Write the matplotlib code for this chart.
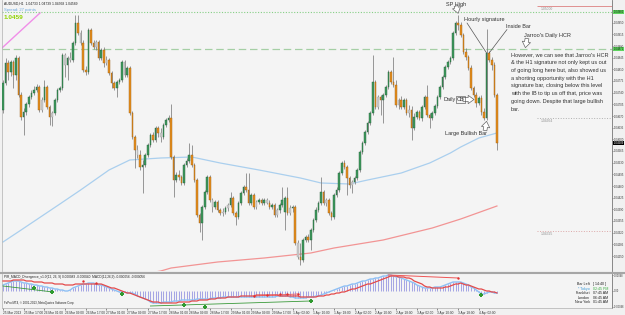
import numpy as np
import matplotlib
matplotlib.use('Agg')
import matplotlib.pyplot as plt
from matplotlib.lines import Line2D
from matplotlib.transforms import blended_transform_factory

plt.rcParams['font.family'] = ['Liberation Sans', 'DejaVu Sans']

# AUDUSD H1 candles
opens = [
    1.04688, 1.04769, 1.04829, 1.04802, 1.04832, 1.04793, 1.04844, 1.04733,
    1.04667, 1.04682, 1.04706, 1.04727, 1.04739, 1.04748, 1.04757, 1.04688,
    1.04718, 1.04757, 1.04697, 1.04667, 1.04679, 1.04718, 1.04748, 1.04754,
    1.04853, 1.04823, 1.04844, 1.04838, 1.04889, 1.04949, 1.04919, 1.04889,
    1.04808, 1.04802, 1.04928, 1.04889, 1.04877, 1.04892, 1.04844, 1.04868,
    1.04829, 1.04838, 1.04799, 1.04769, 1.04754, 1.04772, 1.04778, 1.04832,
    1.04793, 1.04814, 1.04679, 1.04607, 1.04568, 1.04553, 1.04517, 1.04523,
    1.04553, 1.04583, 1.04613, 1.04598, 1.04634, 1.04619, 1.04607, 1.04643,
    1.04658, 1.04664, 1.04547, 1.04478, 1.04493, 1.04487, 1.04469, 1.04523,
    1.04535, 1.04553, 1.04523, 1.04478, 1.04373, 1.04349, 1.04397, 1.04442,
    1.04487, 1.04418, 1.04397, 1.04412, 1.04388, 1.04379, 1.04382, 1.04394,
    1.04403, 1.04424, 1.04379, 1.04367, 1.04409, 1.04439, 1.04457, 1.04448,
    1.04409, 1.04433, 1.04397, 1.04412, 1.04418, 1.04409, 1.04418, 1.04409,
    1.04397, 1.04403, 1.04373, 1.04388, 1.04403, 1.04382, 1.04424, 1.04379,
    1.04394, 1.04397, 1.04289, 1.04247, 1.04238, 1.04298, 1.04307, 1.04298,
    1.04328, 1.04358, 1.04388, 1.04409, 1.04442, 1.04409, 1.04418, 1.04379,
    1.04367, 1.04433, 1.04448, 1.04499, 1.04529, 1.04517, 1.04484, 1.04463,
    1.04472, 1.04484, 1.04508, 1.04562, 1.04589, 1.04622, 1.04649, 1.04679,
    1.04772, 1.04697, 1.04727, 1.04718, 1.04733, 1.04757, 1.04802, 1.04772,
    1.04763, 1.04703, 1.04718, 1.04697, 1.04718, 1.04679, 1.04688, 1.04634,
    1.04667, 1.04682, 1.04664, 1.04697, 1.04727, 1.04673, 1.04664, 1.04679,
    1.04700, 1.04727, 1.04757, 1.04787, 1.04817, 1.04832, 1.04844, 1.04919,
    1.04949, 1.04943, 1.04913, 1.04862, 1.04847, 1.04814, 1.04754, 1.04733,
    1.04709, 1.04724, 1.04682, 1.04664, 1.04859, 1.04838, 1.04823, 1.04733,
]
highs = [
    1.04778, 1.04844, 1.04838, 1.04838, 1.04838, 1.04853, 1.04850, 1.04742,
    1.04694, 1.04712, 1.04733, 1.04748, 1.04760, 1.04766, 1.04763, 1.04727,
    1.04778, 1.04763, 1.04703, 1.04685, 1.04724, 1.04754, 1.04760, 1.04859,
    1.04859, 1.04850, 1.04862, 1.04895, 1.04973, 1.04973, 1.04928, 1.04898,
    1.04820, 1.04934, 1.04934, 1.04898, 1.04898, 1.04898, 1.04874, 1.04877,
    1.04850, 1.04844, 1.04805, 1.04775, 1.04778, 1.04784, 1.04838, 1.04838,
    1.04820, 1.04820, 1.04685, 1.04613, 1.04583, 1.04568, 1.04538, 1.04559,
    1.04589, 1.04619, 1.04622, 1.04640, 1.04640, 1.04634, 1.04649, 1.04664,
    1.04673, 1.04706, 1.04553, 1.04502, 1.04508, 1.04493, 1.04529, 1.04544,
    1.04589, 1.04583, 1.04529, 1.04484, 1.04379, 1.04403, 1.04448, 1.04493,
    1.04493, 1.04424, 1.04418, 1.04418, 1.04394, 1.04394, 1.04400, 1.04409,
    1.04442, 1.04430, 1.04385, 1.04415, 1.04445, 1.04463, 1.04499, 1.04499,
    1.04439, 1.04439, 1.04418, 1.04424, 1.04424, 1.04424, 1.04424, 1.04418,
    1.04409, 1.04409, 1.04394, 1.04409, 1.04457, 1.04430, 1.04457, 1.04403,
    1.04403, 1.04403, 1.04298, 1.04289, 1.04304, 1.04313, 1.04316, 1.04334,
    1.04364, 1.04397, 1.04415, 1.04487, 1.04448, 1.04424, 1.04424, 1.04385,
    1.04439, 1.04457, 1.04505, 1.04535, 1.04538, 1.04523, 1.04490, 1.04478,
    1.04490, 1.04514, 1.04568, 1.04595, 1.04628, 1.04655, 1.04685, 1.04853,
    1.04778, 1.04733, 1.04733, 1.04739, 1.04763, 1.04808, 1.04808, 1.04847,
    1.04778, 1.04724, 1.04730, 1.04724, 1.04724, 1.04703, 1.04700, 1.04679,
    1.04688, 1.04688, 1.04703, 1.04733, 1.04763, 1.04679, 1.04685, 1.04706,
    1.04733, 1.04763, 1.04793, 1.04823, 1.04838, 1.04850, 1.04925, 1.04955,
    1.04973, 1.04952, 1.04919, 1.04874, 1.04853, 1.04823, 1.04760, 1.04742,
    1.04730, 1.04733, 1.04694, 1.04931, 1.04865, 1.04847, 1.04832, 1.04739,
]
lows = [
    1.04679, 1.04763, 1.04778, 1.04790, 1.04754, 1.04778, 1.04727, 1.04658,
    1.04613, 1.04673, 1.04697, 1.04721, 1.04733, 1.04742, 1.04682, 1.04682,
    1.04712, 1.04691, 1.04643, 1.04640, 1.04673, 1.04712, 1.04742, 1.04748,
    1.04787, 1.04778, 1.04832, 1.04832, 1.04883, 1.04913, 1.04883, 1.04802,
    1.04793, 1.04796, 1.04883, 1.04871, 1.04868, 1.04838, 1.04838, 1.04817,
    1.04823, 1.04793, 1.04754, 1.04748, 1.04727, 1.04766, 1.04772, 1.04787,
    1.04787, 1.04673, 1.04601, 1.04514, 1.04544, 1.04508, 1.04439, 1.04517,
    1.04547, 1.04577, 1.04592, 1.04592, 1.04607, 1.04592, 1.04601, 1.04637,
    1.04652, 1.04541, 1.04427, 1.04472, 1.04478, 1.04463, 1.04463, 1.04517,
    1.04529, 1.04517, 1.04472, 1.04367, 1.04322, 1.04298, 1.04391, 1.04436,
    1.04412, 1.04382, 1.04391, 1.04382, 1.04373, 1.04370, 1.04376, 1.04385,
    1.04397, 1.04373, 1.04343, 1.04361, 1.04403, 1.04433, 1.04442, 1.04403,
    1.04403, 1.04391, 1.04391, 1.04406, 1.04403, 1.04403, 1.04406, 1.04391,
    1.04391, 1.04367, 1.04367, 1.04379, 1.04397, 1.04328, 1.04373, 1.04373,
    1.04382, 1.04283, 1.04241, 1.04223, 1.04232, 1.04292, 1.04292, 1.04268,
    1.04322, 1.04352, 1.04382, 1.04403, 1.04403, 1.04400, 1.04373, 1.04358,
    1.04361, 1.04427, 1.04442, 1.04493, 1.04511, 1.04433, 1.04454, 1.04439,
    1.04466, 1.04478, 1.04502, 1.04556, 1.04583, 1.04616, 1.04643, 1.04673,
    1.04691, 1.04691, 1.04673, 1.04649, 1.04727, 1.04751, 1.04766, 1.04757,
    1.04697, 1.04691, 1.04691, 1.04691, 1.04673, 1.04667, 1.04598, 1.04628,
    1.04661, 1.04658, 1.04655, 1.04691, 1.04667, 1.04634, 1.04658, 1.04673,
    1.04694, 1.04721, 1.04751, 1.04781, 1.04811, 1.04826, 1.04838, 1.04913,
    1.04928, 1.04907, 1.04856, 1.04838, 1.04808, 1.04748, 1.04727, 1.04697,
    1.04703, 1.04673, 1.04658, 1.04658, 1.04832, 1.04808, 1.04727, 1.04568,
]
closes = [
    1.04769, 1.04829, 1.04802, 1.04832, 1.04793, 1.04844, 1.04733, 1.04667,
    1.04682, 1.04706, 1.04727, 1.04739, 1.04748, 1.04757, 1.04688, 1.04718,
    1.04757, 1.04697, 1.04667, 1.04679, 1.04718, 1.04748, 1.04754, 1.04853,
    1.04823, 1.04844, 1.04838, 1.04889, 1.04949, 1.04919, 1.04889, 1.04808,
    1.04802, 1.04928, 1.04889, 1.04877, 1.04892, 1.04844, 1.04868, 1.04829,
    1.04838, 1.04799, 1.04769, 1.04754, 1.04772, 1.04778, 1.04832, 1.04793,
    1.04814, 1.04679, 1.04607, 1.04568, 1.04553, 1.04517, 1.04523, 1.04553,
    1.04583, 1.04613, 1.04598, 1.04634, 1.04619, 1.04607, 1.04643, 1.04658,
    1.04664, 1.04547, 1.04478, 1.04493, 1.04487, 1.04469, 1.04523, 1.04535,
    1.04553, 1.04523, 1.04478, 1.04373, 1.04349, 1.04397, 1.04442, 1.04487,
    1.04418, 1.04397, 1.04412, 1.04388, 1.04379, 1.04382, 1.04394, 1.04403,
    1.04424, 1.04379, 1.04367, 1.04409, 1.04439, 1.04457, 1.04448, 1.04409,
    1.04433, 1.04397, 1.04412, 1.04418, 1.04409, 1.04418, 1.04409, 1.04397,
    1.04403, 1.04373, 1.04388, 1.04403, 1.04418, 1.04424, 1.04379, 1.04394,
    1.04397, 1.04289, 1.04247, 1.04238, 1.04298, 1.04307, 1.04298, 1.04328,
    1.04358, 1.04388, 1.04409, 1.04442, 1.04409, 1.04418, 1.04379, 1.04367,
    1.04433, 1.04448, 1.04499, 1.04529, 1.04517, 1.04484, 1.04463, 1.04472,
    1.04484, 1.04508, 1.04562, 1.04589, 1.04622, 1.04649, 1.04679, 1.04772,
    1.04697, 1.04727, 1.04718, 1.04733, 1.04757, 1.04802, 1.04772, 1.04763,
    1.04703, 1.04718, 1.04697, 1.04718, 1.04679, 1.04688, 1.04634, 1.04667,
    1.04682, 1.04664, 1.04697, 1.04727, 1.04673, 1.04664, 1.04679, 1.04700,
    1.04727, 1.04757, 1.04787, 1.04817, 1.04832, 1.04844, 1.04919, 1.04949,
    1.04943, 1.04913, 1.04862, 1.04847, 1.04814, 1.04754, 1.04733, 1.04709,
    1.04724, 1.04682, 1.04664, 1.04859, 1.04838, 1.04823, 1.04733, 1.04589,
]
grey_bars = [15, 19, 24, 26, 30, 36, 40, 47, 52, 61, 81, 85, 87, 98, 102, 106,
             111, 114, 125, 135, 145, 153, 157]

# moving averages (sampled along the drawn curves)
ma_blue_idx = [0, 7, 22, 30, 41, 49, 61, 73, 84, 99, 115, 123, 134, 141, 154, 165, 173, 177, 184, 191]
ma_blue = [1.04292, 1.04328, 1.04406, 1.04448, 1.04508, 1.04538, 1.04544, 1.04547, 1.04529, 1.04508,
           1.04484, 1.04469, 1.04466, 1.04478, 1.04499, 1.04529, 1.04559, 1.04577, 1.04604, 1.04619]
ma_red_idx = [30, 61, 65, 83, 101, 119, 128, 147, 166, 177, 191]
ma_red = [1.04163, 1.04205, 1.04214, 1.04232, 1.04244, 1.04259, 1.04274, 1.04298, 1.04334, 1.04361, 1.04400]
trend_idx = [-0.4, 14.3]
trend_price = [1.04874, 1.04979]

sp_level = 1.04982
hcr_level = 1.04871
short_levels = [1.05000, 1.04664, 1.04325]

# MACD(12,26,9) sub-window, values in 1e-6
macd_main = [
    168, 196, 224, 252, 280, 280, 280, 252, 224, 224, 196, 196, 168, 168, 140, 140,
    112, 112, 84, 84, 56, 56, 28, 28, 0, 0, 28, 84, 112, 140, 168, 196,
    196, 224, 224, 224, 196, 168, 168, 140, 112, 84, 56, 28, 0, -28, -28, -28,
    -56, -56, -56, -84, -140, -168, -196, -224, -252, -308, -336, -336, -336, -336, -308, -308,
    -308, -308, -280, -280, -280, -252, -252, -252, -252, -252, -252, -224, -224, -224, -224, -224,
    -224, -196, -196, -196, -196, -168, -168, -168, -168, -168, -168, -168, -168, -168, -168, -168,
    -168, -168, -168, -168, -168, -168, -168, -168, -168, -168, -140, -140, -140, -140, -140, -168,
    -168, -196, -196, -196, -196, -196, -168, -168, -168, -140, -140, -112, -84, -56, -28, 0,
    28, 56, 84, 112, 140, 140, 168, 196, 196, 224, 252, 280, 280, 308, 336, 336,
    364, 364, 392, 420, 420, 448, 448, 420, 392, 392, 364, 336, 308, 280, 252, 224,
    168, 140, 112, 84, 84, 84, 84, 112, 112, 112, 140, 168, 196, 224, 252, 252,
    252, 252, 224, 196, 168, 112, 84, 28, -28, -84, -84, -56, -28, -28, -56, -56,
]
macd_signal = [
    280, 280, 280, 280, 308, 308, 308, 308, 308, 280, 280, 280, 252, 252, 252, 252,
    224, 224, 224, 224, 196, 196, 196, 196, 168, 168, 168, 168, 196, 196, 196, 196,
    196, 196, 196, 196, 196, 196, 196, 168, 140, 112, 84, 84, 56, 28, 0, -28,
    -56, -56, -84, -112, -140, -168, -196, -224, -252, -280, -308, -308, -308, -336, -336, -336,
    -336, -336, -336, -336, -308, -308, -308, -308, -308, -280, -280, -280, -252, -252, -252, -252,
    -224, -224, -224, -196, -196, -196, -196, -168, -168, -168, -168, -168, -140, -140, -140, -140,
    -140, -140, -112, -112, -112, -112, -112, -112, -112, -112, -112, -140, -140, -140, -140, -140,
    -140, -140, -140, -168, -168, -168, -168, -168, -168, -168, -140, -140, -140, -112, -112, -84,
    -84, -56, -56, -28, -28, 0, 28, 56, 56, 84, 112, 140, 168, 196, 196, 224,
    252, 280, 308, 336, 364, 392, 420, 420, 420, 392, 392, 392, 364, 364, 336, 280,
    252, 224, 196, 140, 112, 112, 84, 84, 84, 84, 84, 112, 112, 140, 168, 196,
    196, 224, 196, 168, 168, 140, 112, 84, 56, 56, 28, 0, 0, -28, -28, -56,
]
div_green_idx = [12, 19, 46, 70, 78, 119, 185]
div_green_val = [84, -28, -84, -392, -448, -280, -112]
div_red_idx = [31, 36, 97, 102, 107, 110, 114, 176]
div_red_val = [280, 224, -140, -112, -84, -84, -84, 364]

date_labels = ["25 Mar 2013", "25 Mar 17:00", "26 Mar 01:00", "26 Mar 09:00", "26 Mar 17:00",
               "27 Mar 01:00", "27 Mar 09:00", "27 Mar 17:00", "28 Mar 01:00", "28 Mar 09:00",
               "28 Mar 17:00", "29 Mar 01:00", "29 Mar 09:00", "29 Mar 17:00", "1 Apr 02:00",
               "1 Apr 10:00", "1 Apr 18:00", "2 Apr 02:00", "2 Apr 10:00", "2 Apr 18:00",
               "3 Apr 02:00", "3 Apr 10:00", "3 Apr 18:00", "4 Apr 02:00"]

clock_names = ["Bar Left", "* Tokyo", "Frankfurt", "London", "New York"]
clock_times = ["[ 14:40 ]", "02:45 PM", "07:45 AM", "06:45 AM", "01:45 AM"]

comment = ["However, we can see that Jarroo's HCR",
           "& the H1 signature not only kept us out",
           "of going long here but, also showed us",
           "a shorting opportunity with the H1",
           "signature bar, closing below this level",
           "with the IB to tip us off that, price was",
           "going down. Despite that large bullish",
           "bar."]

# ---- layout in pixels ----
W, H = 625, 315
fig = plt.figure(figsize=(W / 100, H / 100), dpi=100, facecolor='#f1f1f1')
fx = lambda x: x / W
fy = lambda y: 1 - y / H

ax = fig.add_axes([fx(2), fy(271), fx(612) - fx(2), fy(0) - fy(271)], facecolor='#f4f4f4')
ax2 = fig.add_axes([fx(2), fy(308), fx(612) - fx(2), fy(274) - fy(308)], facecolor='#f4f4f4')
xlim = (-0.39, 235.5)

idx = np.arange(len(closes))
o, h, l, c = map(np.array, (opens, highs, lows, closes))
up = c >= o
body_c = np.where(up, '#3f9c5f', '#e8901e')
edge_c = np.where(up, '#245c38', '#9a5e12')
grey = np.isin(idx, grey_bars)
body_c[grey] = '#c9c9c9'
edge_c[grey] = '#ababab'

ax.plot(ma_blue_idx, ma_blue, color='#aacfee', lw=0.9, zorder=1)
ax.plot(ma_red_idx, ma_red, color='#f29494', lw=0.9, zorder=1)
ax.plot(trend_idx, trend_price, color='#f08ee8', lw=1.0, zorder=1)
ax.axhline(sp_level, color='#86cf86', lw=0.8, ls=(0, (1, 1.5)), zorder=1)
ax.axhline(hcr_level, color='#a5cfa5', lw=0.9, ls=(0, (6, 3)), zorder=1)
for v, col, ls in zip(short_levels, ['#e09090', '#b0b0b0', '#dca8a8'], ['-', ':', ':']):
    ax.hlines(v, 206.5, xlim[1], color=col, lw=0.7, ls=ls, zorder=1)
    ax.text(208, v - 0.00003, f'{v:.5f}', fontsize=2.4, color='#909090', va='top', ha='left')

ax.vlines(idx, l, h, color='#7d7d7d', lw=0.55, zorder=2)
ax.bar(idx, np.maximum(np.abs(c - o), 0.00002), bottom=np.minimum(o, c), width=0.62,
       color=body_c, edgecolor=edge_c, linewidth=0.3, zorder=3)

ax.set_xlim(*xlim)
ax.set_ylim(1.04205, 1.05018)
ax.yaxis.tick_right()
yt = np.round(1.04950 - 0.00035 * np.arange(21), 5)
ax.set_yticks(yt)
ax.set_yticklabels([f'{t:.5f}' for t in yt])
ax.tick_params(axis='y', labelsize=1.95, length=1.0, width=0.4, pad=0.6, colors='#333333')
ax.tick_params(axis='x', bottom=False, labelbottom=False)
for s in ['top', 'bottom']:
    ax.spines[s].set_visible(False)
ax.spines['left'].set_color('#b0b0b0')
ax.spines['left'].set_linewidth(0.5)
ax.spines['right'].set_color('#777777')
ax.spines['right'].set_linewidth(0.6)

trans = blended_transform_factory(ax.transAxes, ax.transData)
for v, fc, tc in [(sp_level, '#5fd35f', '#0d2a0d'), (hcr_level, '#5fd35f', '#0d2a0d'),
                  (closes[-1], '#000000', '#ffffff')]:
    ax.text(1.0025, v, f'{v:.5f}', transform=trans, fontsize=1.95, color=tc, va='center',
            ha='left', clip_on=False, bbox=dict(boxstyle='square,pad=0.12', fc=fc, ec='none'))

# header texts
fig.text(fx(4), fy(3.5), f'AUDUSD,H1  {opens[-1]:.5f} {highs[-1]:.5f} {lows[-1]:.5f} {closes[-1]:.5f}',
         fontsize=2.4, color='#202020', va='center')
fig.text(fx(4), fy(10), 'Spread: 27 points', fontsize=3.0, color='#6aa8e0', va='center')
fig.text(fx(4), fy(17.5), f'{closes[-1]:.4f}', fontsize=4.6, color='#8fd400', va='center',
         fontweight='bold')

# annotations
tc = '#333333'
fs = 4.0
fig.text(fx(456), fy(4.5), 'SP High', fontsize=fs, color=tc, ha='center', va='center')
fig.text(fx(464), fy(19), 'Hourly signature', fontsize=fs, color=tc, va='center')
fig.text(fx(506), fy(27), 'Inside Bar', fontsize=fs, color=tc, va='center')
fig.text(fx(524), fy(36), "Jarroo's Daily HCR", fontsize=fs, color=tc, va='center')
for k, line in enumerate(comment):
    fig.text(fx(511), fy(55 + 7.75 * k), line, fontsize=fs, color=tc, va='center')
fig.text(fx(443), fy(99.5), 'Daily', fontsize=fs, color=tc, va='center')
fig.text(fx(456.5), fy(99.5), 'CB', fontsize=fs, color=tc, va='center',
         bbox=dict(boxstyle='square,pad=0.1', fc='none', ec='#444444', lw=0.4))
fig.text(fx(466), fy(133), 'Large Bullish Bar', fontsize=fs, color=tc, ha='center', va='center')

line_kw = dict(arrowstyle='-', color='#555555', lw=0.5, shrinkA=0, shrinkB=0)
ax.annotate('', xy=(187, closes[187]), xytext=(fx(467), fy(23)), textcoords='figure fraction',
            arrowprops=line_kw)
ax.annotate('', xy=(188, opens[188]), xytext=(fx(507), fy(29.5)), textcoords='figure fraction',
            arrowprops=line_kw)
hollow = dict(arrowstyle='simple,head_length=0.7,head_width=1.0,tail_width=0.45', fc='white',
              ec='#666666', lw=0.5, shrinkA=0, shrinkB=0, mutation_scale=6)
ax.annotate('', xy=(176, highs[176] + 0.00005), xytext=(fx(456), fy(6)),
            textcoords='figure fraction', arrowprops=hollow)
ax.annotate('', xy=(202, hcr_level + 0.00004), xytext=(fx(527), fy(38.5)),
            textcoords='figure fraction', arrowprops=hollow)
ax.annotate('', xy=(fx(474), fy(99.5)), xycoords='figure fraction', xytext=(fx(463), fy(99.5)),
            textcoords='figure fraction', arrowprops=hollow)
ax.annotate('', xy=(187, lows[187] - 0.00004), xytext=(fx(485), fy(130.5)),
            textcoords='figure fraction', arrowprops=hollow)

# MACD window
m = np.array(macd_main) * 1e-6
sg = np.array(macd_signal) * 1e-6
ax2.vlines(idx, 0, m, color='#8f8fe0', lw=0.55, zorder=1)
ax2.plot(idx, m, color='#8ec0f4', lw=1.0, zorder=2)
ax2.plot(idx, sg, color='#e44a4a', lw=0.9, zorder=3)
ax2.plot([0, 19.3], [140e-6, -28e-6], color='#3a9a3a', lw=0.6, zorder=3)
ax2.plot([57, 119], [-420e-6, -280e-6], color='#3a9a3a', lw=0.6, zorder=3)
ax2.plot([149, 176], [448e-6, 364e-6], color='#ee5555', lw=0.7, zorder=3)
ax2.plot([97, 114], [-140e-6, -84e-6], color='#ee5555', lw=0.6, zorder=3)
ax2.scatter(div_green_idx, np.array(div_green_val) * 1e-6, marker='P', s=5, color='#2f9a2f',
            lw=0, zorder=4, clip_on=False)
ax2.scatter(div_red_idx, np.array(div_red_val) * 1e-6, marker='o', s=3, color='#e03030',
            lw=0, zorder=4)
lim = 476e-6
ax2.set_xlim(*xlim)
ax2.set_ylim(-lim, lim)
ax2.yaxis.tick_right()
ax2.set_yticks([lim * 0.93, 0, -lim * 0.93])
ax2.set_yticklabels([f'{lim:.5f}', '0.00', f'{-lim:.5f}'])
ax2.tick_params(axis='y', labelsize=1.85, length=1.0, width=0.4, pad=0.6, colors='#333333')
ax2.set_xticks(np.arange(len(date_labels)) * 8)
ax2.set_xticklabels(date_labels)
for t in ax2.get_xticklabels():
    t.set_ha('left')
ax2.tick_params(axis='x', labelsize=2.3, length=1.5, width=0.4, pad=1, colors='#333333')
ax2.spines['top'].set_visible(False)
for s in ['left', 'bottom']:
    ax2.spines[s].set_color('#b0b0b0')
    ax2.spines[s].set_linewidth(0.5)
ax2.spines['right'].set_color('#777777')
ax2.spines['right'].set_linewidth(0.6)

fig.text(fx(4), fy(277), 'PIR_MACD_Divergence_v1.0(12, 26, 9) 0.000083 -0.000040  '
         f'MACD(12,26,9) {m[-1]:.6f} {sg[-1]:.6f}', fontsize=2.3, color='#202020', va='center')
fig.text(fx(4), fy(303), 'FxPro MT4, \u00a9 2001-2013, MetaQuotes Software Corp.',
         fontsize=2.1, color='#202020', va='center')
for k, (nm, tm) in enumerate(zip(clock_names, clock_times)):
    ncol = '#3a9ad9' if k == 1 else '#202020'
    tcol = '#3cb043' if k == 1 else '#202020'
    fig.text(fx(590), fy(284 + 4.6 * k), nm, fontsize=2.6, color=ncol, ha='right', va='center')
    fig.text(fx(593), fy(284 + 4.6 * k), tm, fontsize=2.6, color=tcol, ha='left', va='center')

fig.add_artist(Line2D([0, 1], [fy(272.5)] * 2, color='#a6a6a6', lw=1.5))

fig.savefig('out.png', dpi=100, facecolor=fig.get_facecolor())
